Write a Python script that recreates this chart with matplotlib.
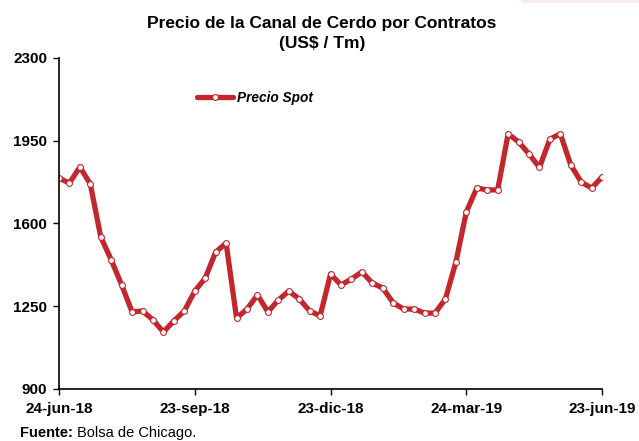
import matplotlib
matplotlib.use('Agg')
import matplotlib.pyplot as plt
from matplotlib.patches import Rectangle
import pandas as pd

# precio spot semanal (US$/Tm), 24-jun-18 .. 23-jun-19
fechas = pd.date_range('2018-06-24', periods=53, freq='7D')
precio_spot = [1792, 1771, 1839, 1767, 1543, 1446, 1340, 1226, 1230, 1192,
               1141, 1188, 1230, 1314, 1369, 1479, 1517, 1200, 1238, 1298,
               1226, 1276, 1314, 1281, 1230, 1209, 1386, 1340, 1365, 1395,
               1348, 1327, 1264, 1238, 1238, 1221, 1221, 1281, 1437, 1649,
               1750, 1742, 1742, 1979, 1945, 1894, 1837, 1957, 1979, 1847,
               1775, 1750, 1797]

tick_fechas = pd.to_datetime(['2018-06-24', '2018-09-23', '2018-12-23',
                              '2019-03-24', '2019-06-23'])
tick_labels = ['24-jun-18', '23-sep-18', '23-dic-18', '24-mar-19', '23-jun-19']
y_ticks = [900, 1250, 1600, 1950, 2300]

plt.rcParams['font.family'] = ['Liberation Sans', 'DejaVu Sans']
rojo = '#C1272D'

fig = plt.figure(figsize=(6.39, 4.41), dpi=100)
ax = fig.add_axes([0.0923, 0.118, 0.850, 0.7505])

ax.plot(fechas, precio_spot, color=rojo, lw=3.8, solid_capstyle='round',
        marker='o', markersize=4.2, markerfacecolor='white',
        markeredgecolor=rojo, markeredgewidth=0.8, label='Precio Spot')

ax.set_xlim(fechas[0], fechas[-1])
ax.set_ylim(900, 2300)
ax.set_yticks(y_ticks)
ax.set_yticklabels([str(v) for v in y_ticks], fontweight='bold', fontsize=11)
ax.set_xticks(tick_fechas)
ax.set_xticklabels(tick_labels, fontweight='bold', fontsize=11)
ax.tick_params(axis='both', direction='out', length=4.5, width=1, color='black')
ax.tick_params(axis='y', pad=4)
ax.tick_params(axis='x', pad=5)
for s in ['top', 'right']:
    ax.spines[s].set_visible(False)
for s in ['left', 'bottom']:
    ax.spines[s].set_linewidth(1.2)
    ax.spines[s].set_clip_on(False)

ax.legend(loc='upper left', bbox_to_anchor=(0.232, 0.937), frameon=False,
          handlelength=2.6, handletextpad=0.3,
          prop={'weight': 'bold', 'style': 'italic', 'size': 9.8})

fig.text(0.504, 0.946, 'Precio de la Canal de Cerdo por Contratos',
         ha='center', va='center', fontsize=12.5, fontweight='bold')
fig.text(0.504, 0.902, '(US$ / Tm)', ha='center', va='center',
         fontsize=12.5, fontweight='bold')

# fuente
t1 = fig.text(0.031, 0.018, 'Fuente:', ha='left', va='center',
              fontsize=10.5, fontweight='bold')
ax.annotate('Bolsa de Chicago.', xy=(1, 0.5), xycoords=t1,
            xytext=(3, 0), textcoords='offset points',
            ha='left', va='center', fontsize=10.5, annotation_clip=False)

fig.patches.append(Rectangle((0.815, 0.993), 0.185, 0.007, transform=fig.transFigure,
                             facecolor='#FCEBEB', edgecolor='none'))

fig.savefig('out.png', dpi=100)
